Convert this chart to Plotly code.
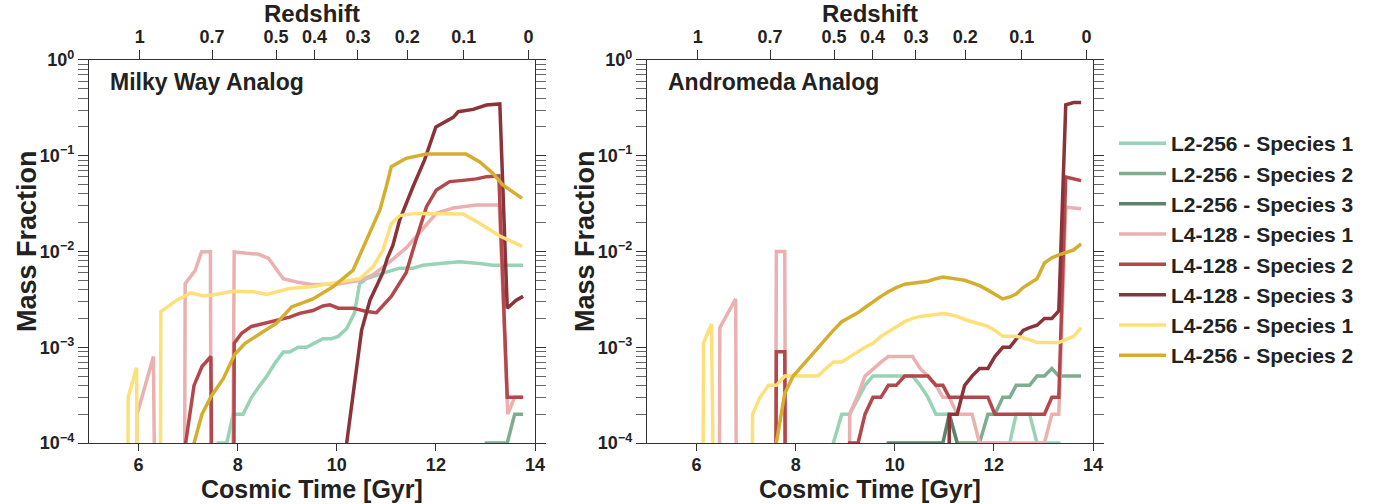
import numpy as np
import plotly.graph_objects as go

# ---- Milky Way analog (left panel): cosmic time [Gyr] / mass fraction per run+species
MW_L2_S1_T = [7.50, 7.61, 7.78, 7.91, 8.11, 8.28, 8.45, 8.58, 8.75, 8.92, 9.05, 9.22, 9.39, 9.72, 9.89,
              10.03, 10.20, 10.36, 10.46, 10.60, 11.00, 11.27, 11.54, 11.74, 12.08, 12.48, 12.88, 13.15, 13.76]
MW_L2_S1_Y = [0, 1e-4, 1e-4, 2.0e-4, 2.0e-4, 3.0e-4, 4.0e-4, 4.9e-4, 6.8e-4, 8.9e-4, 8.9e-4, 1.0e-3, 1.0e-3, 1.23e-3, 1.23e-3,
              1.3e-3, 1.57e-3, 2.3e-3, 4.6e-3, 5.2e-3, 6.1e-3, 6.7e-3, 6.7e-3, 7.2e-3, 7.5e-3, 7.8e-3, 7.5e-3, 7.2e-3, 7.2e-3]

MW_L2_S2_T = [12.90, 13.02, 13.44, 13.59, 13.76]
MW_L2_S2_Y = [0, 1e-4, 1e-4, 2e-4, 2e-4]

MW_L4128_S1_T = [5.80, 5.97, 6.30, 6.45, 6.80, 6.94, 7.14, 7.27, 7.45, 7.60, 7.80, 7.93, 8.18, 8.41, 8.62, 8.92,
                 9.19, 9.52, 10.06, 10.46, 10.73, 11.07, 11.40, 11.74, 12.01, 12.35, 12.82, 13.28, 13.45, 13.59, 13.76]
MW_L4128_S1_Y = [0, 2.0e-4, 8.0e-4, 0, 0, 4.6e-3, 6.3e-3, 9.9e-3, 1.0e-2, 0, 0, 9.9e-3, 9.6e-3, 9.4e-3, 8.5e-3, 5.2e-3,
                 4.8e-3, 4.5e-3, 4.6e-3, 5.0e-3, 5.7e-3, 7.8e-3, 1.09e-2, 1.73e-2, 2.5e-2, 2.85e-2, 3.05e-2, 3.05e-2, 2.0e-4, 3.0e-4, 3.0e-4]

MW_L4128_S2_T = [6.80, 6.95, 7.12, 7.28, 7.46, 7.60, 7.80, 7.93, 8.08, 8.28, 8.58, 8.85, 9.05, 9.25, 9.52, 9.72, 9.86,
                 10.03, 10.33, 10.60, 10.80, 11.10, 11.40, 11.60, 11.81, 12.01, 12.28, 12.55, 12.82, 13.02, 13.27, 13.44, 13.76]
MW_L4128_S2_Y = [0, 1e-4, 4.0e-4, 6.3e-4, 8.0e-4, 0, 0, 1.1e-3, 1.4e-3, 1.65e-3, 1.8e-3, 1.96e-3, 2.06e-3, 2.26e-3, 2.42e-3, 2.7e-3, 2.77e-3,
                 2.56e-3, 2.56e-3, 2.36e-3, 2.3e-3, 3.4e-3, 6.0e-3, 1.33e-2, 2.94e-2, 4.39e-2, 5.37e-2, 5.53e-2, 5.73e-2, 6.05e-2, 6.15e-2, 3.0e-4, 3.0e-4]

MW_L4128_S3_T = [10.10, 10.20, 10.50, 10.67, 10.93, 11.02, 11.13, 11.27, 11.54, 11.77, 12.00, 12.21, 12.35, 12.45, 12.75,
                 13.02, 13.29, 13.44, 13.62, 13.76]
MW_L4128_S3_Y = [0, 1e-4, 1.5e-3, 3.1e-3, 6.0e-3, 8.5e-3, 1.15e-2, 2.14e-2, 4.77e-2, 9.0e-2, 0.20, 0.227, 0.252, 0.288, 0.305,
                 0.339, 0.347, 2.56e-3, 3.1e-3, 3.4e-3]

MW_L4256_S1_T = [5.70, 5.79, 5.96, 6.10, 6.30, 6.45, 6.77, 7.06, 7.28, 7.46, 7.91, 8.32, 8.58, 9.05, 9.52, 9.93,
                 10.46, 10.73, 10.93, 11.10, 11.27, 11.60, 12.55, 12.88, 13.29, 13.74]
MW_L4256_S1_Y = [0, 3.0e-4, 6.1e-4, 0, 0, 2.35e-3, 3.1e-3, 3.7e-3, 3.45e-3, 3.5e-3, 3.85e-3, 3.8e-3, 3.57e-3, 4.1e-3, 4.3e-3, 4.7e-3,
                 5.2e-3, 6.9e-3, 1.03e-2, 1.95e-2, 2.37e-2, 2.5e-2, 2.47e-2, 1.97e-2, 1.45e-2, 1.13e-2]

MW_L4256_S2_T = [7.00, 7.12, 7.28, 7.47, 7.71, 7.94, 8.15, 8.35, 8.51, 8.78, 9.09, 9.52, 9.93, 10.33, 10.63,
                 10.87, 11.00, 11.10, 11.40, 11.81, 12.61, 12.88, 13.15, 13.35, 13.74]
MW_L4256_S2_Y = [0, 1e-4, 2.0e-4, 3.1e-4, 4.7e-4, 8.4e-4, 1.1e-3, 1.3e-3, 1.45e-3, 1.77e-3, 2.64e-3, 3.2e-3, 4.3e-3, 6.4e-3, 1.44e-2,
                 2.72e-2, 4.77e-2, 7.69e-2, 9.4e-2, 0.104, 0.104, 8.66e-2, 6.55e-2, 4.96e-2, 3.59e-2]

# ---- Andromeda analog (right panel): all runs share one snapshot grid
M31_T = [5.98, 6.14, 6.30, 6.47, 6.63, 6.79, 6.96, 7.13, 7.28, 7.45,
         7.61, 7.78, 7.95, 8.12, 8.28, 8.45, 8.61, 8.76, 8.93, 9.09,
         9.26, 9.40, 9.56, 9.72, 9.87, 10.03, 10.20, 10.36, 10.51, 10.67,
         10.83, 10.97, 11.10, 11.26, 11.41, 11.56, 11.71, 11.88, 12.02, 12.18,
         12.32, 12.45, 12.59, 12.72, 12.87, 13.02, 13.17, 13.31, 13.45, 13.61,
         13.76]
M31_L2_S1 = [0, 0, 0, 0, 0, 0, 0, 0, 0, 0,
             0, 0, 0, 0, 0, 0, 0, 1e-4, 2e-4, 2e-4,
             3e-4, 4e-4, 5e-4, 5e-4, 5e-4, 5e-4, 5e-4, 5e-4, 4e-4, 3e-4,
             2e-4, 2e-4, 2e-4, 1e-4, 1e-4, 1e-4, 1e-4, 1e-4, 1e-4, 1e-4,
             1e-4, 2e-4, 2e-4, 2e-4, 1e-4, 1e-4, 1e-4, 1e-4, 0, 0,
             0]
M31_L2_S2 = [0, 0, 0, 0, 0, 0, 0, 0, 0, 0,
             0, 0, 0, 0, 0, 0, 0, 0, 0, 0,
             0, 0, 0, 0, 0, 0, 0, 0, 0, 0,
             0, 0, 0, 1e-4, 1e-4, 1e-4, 1e-4, 2e-4, 2e-4, 3e-4,
             3e-4, 4e-4, 4e-4, 4e-4, 5e-4, 5e-4, 6e-4, 5e-4, 5e-4, 5e-4,
             5e-4]
M31_L2_S3 = [0, 0, 0, 0, 0, 0, 0, 0, 0, 0,
             0, 0, 0, 0, 0, 0, 0, 0, 0, 0,
             0, 0, 0, 0, 1e-4, 1e-4, 1e-4, 1e-4, 1e-4, 1e-4,
             1e-4, 1e-4, 2e-4, 1e-4, 0, 0, 0, 0, 0, 0,
             0, 0, 0, 0, 0, 0, 0, 0, 0, 0,
             0]
M31_L4128_S1 = [0, 0, 0, 1.6e-3, 2.3e-3, 3.2e-3, 0, 0, 0, 0,
                1e-2, 1e-2, 0, 0, 0, 0, 0, 0, 0, 2e-4,
                3.2e-4, 5e-4, 6e-4, 7e-4, 8e-4, 8e-4, 8e-4, 8e-4, 6e-4, 5e-4,
                4e-4, 3e-4, 3e-4, 2e-4, 2e-4, 2e-4, 1e-4, 1e-4, 1e-4, 1e-4,
                1e-4, 1e-4, 1e-4, 1e-4, 1e-4, 1e-4, 2e-4, 2e-4, 2.9e-2, 2.85e-2,
                2.8e-2]
M31_L4128_S2 = [0, 0, 0, 0, 0, 0, 0, 0, 0, 0,
                9e-4, 9e-4, 0, 0, 0, 0, 0, 0, 0, 1e-4,
                1e-4, 2e-4, 3e-4, 3e-4, 4e-4, 4e-4, 5e-4, 5e-4, 5e-4, 5e-4,
                4e-4, 4e-4, 3e-4, 3e-4, 3e-4, 3e-4, 3e-4, 3e-4, 2e-4, 2e-4,
                2e-4, 2e-4, 2e-4, 2e-4, 2e-4, 2e-4, 3e-4, 3e-4, 6.0e-2, 5.7e-2,
                5.5e-2]
M31_L4128_S3 = [0, 0, 0, 0, 0, 0, 0, 0, 0, 0,
                0, 0, 0, 0, 0, 0, 0, 0, 0, 0,
                0, 0, 0, 0, 0, 0, 0, 0, 0, 0,
                0, 0, 2e-4, 2e-4, 4e-4, 5e-4, 6e-4, 6e-4, 8e-4, 1.0e-3,
                1.0e-3, 1.2e-3, 1.5e-3, 1.6e-3, 1.7e-3, 2.0e-3, 2.0e-3, 2.4e-3, 0.34, 0.36,
                0.36]
M31_L4256_S1 = [0, 1.1e-3, 1.75e-3, 0, 0, 0, 0, 2.0e-4, 3.0e-4, 4.0e-4,
                4.0e-4, 5.0e-4, 5.0e-4, 5.0e-4, 5.0e-4, 5.0e-4, 6.0e-4, 7.0e-4, 7.0e-4, 8.0e-4,
                9.0e-4, 1.0e-3, 1.1e-3, 1.3e-3, 1.45e-3, 1.6e-3, 1.85e-3, 2.0e-3, 2.1e-3, 2.15e-3,
                2.2e-3, 2.25e-3, 2.2e-3, 2.1e-3, 1.95e-3, 1.85e-3, 1.75e-3, 1.65e-3, 1.5e-3, 1.3e-3,
                1.3e-3, 1.3e-3, 1.25e-3, 1.2e-3, 1.12e-3, 1.12e-3, 1.12e-3, 1.12e-3, 1.2e-3, 1.3e-3,
                1.6e-3]
M31_L4256_S2 = [0, 0, 0, 0, 0, 0, 0, 0, 0, 0,
                1e-4, 3.3e-4, 5.0e-4, 6.3e-4, 8.0e-4, 1.0e-3, 1.25e-3, 1.5e-3, 1.85e-3, 2.05e-3,
                2.3e-3, 2.6e-3, 3.0e-3, 3.4e-3, 3.8e-3, 4.2e-3, 4.55e-3, 4.7e-3, 4.75e-3, 4.9e-3,
                5.2e-3, 5.4e-3, 5.3e-3, 5.1e-3, 5.0e-3, 4.7e-3, 4.4e-3, 3.95e-3, 3.6e-3, 3.2e-3,
                3.35e-3, 3.6e-3, 4.2e-3, 4.6e-3, 5.2e-3, 7.6e-3, 8.6e-3, 9.2e-3, 9.7e-3, 1.04e-2,
                1.2e-2]

NAMES = ['L2-256 - Species 1', 'L2-256 - Species 2', 'L2-256 - Species 3',
         'L4-128 - Species 1', 'L4-128 - Species 2', 'L4-128 - Species 3',
         'L4-256 - Species 1', 'L4-256 - Species 2']
COLORS = ['#98d3b5', '#7fad8f', '#5d8469',
          '#ebb0b0', '#b3474b', '#8a343a',
          '#fee07b', '#d5ad2f']

REDSHIFTS = [1, 0.7, 0.5, 0.4, 0.3, 0.2, 0.1, 0]
REDSHIFT_LABELS = ['1', '0.7', '0.5', '0.4', '0.3', '0.2', '0.1', '0']

mw = {
    0: (MW_L2_S1_T, MW_L2_S1_Y),
    1: (MW_L2_S2_T, MW_L2_S2_Y),
    3: (MW_L4128_S1_T, MW_L4128_S1_Y),
    4: (MW_L4128_S2_T, MW_L4128_S2_Y),
    5: (MW_L4128_S3_T, MW_L4128_S3_Y),
    6: (MW_L4256_S1_T, MW_L4256_S1_Y),
    7: (MW_L4256_S2_T, MW_L4256_S2_Y),
}
m31 = [M31_L2_S1, M31_L2_S2, M31_L2_S3, M31_L4128_S1, M31_L4128_S2, M31_L4128_S3,
       M31_L4256_S1, M31_L4256_S2]


def cosmic_time(z, h=0.7, om=0.27):
    # flat LCDM age of the universe at redshift z, in Gyr
    ol = 1.0 - om
    hubble_time = 977.8 / (100.0 * h)
    x = np.sqrt(ol / om) * (1.0 + np.asarray(z, dtype=float)) ** -1.5
    return 2.0 / 3.0 * hubble_time / np.sqrt(ol) * np.arcsinh(x)


def clip_zero(vals):
    # empty snapshots -> tiny value so the lines drop straight down off the log axis
    return [v if v > 0 else 1e-30 for v in vals]


FONT = 'Liberation Sans'
INK = '#222222'
W, H = 1395, 504
LW = 3.5

fig = go.Figure()

for i in range(8):
    if i in mw:
        t, y = mw[i]
        fig.add_trace(go.Scatter(x=t, y=clip_zero(y), mode='lines', name=NAMES[i],
                                 line=dict(color=COLORS[i], width=LW), showlegend=False,
                                 xaxis='x', yaxis='y', legendgroup=NAMES[i]))
for i in range(8):
    fig.add_trace(go.Scatter(x=M31_T, y=clip_zero(m31[i]), mode='lines', name=NAMES[i],
                             line=dict(color=COLORS[i], width=LW), showlegend=True,
                             xaxis='x2', yaxis='y2', legendgroup=NAMES[i]))

# dummy traces so the redshift axes get drawn
fig.add_trace(go.Scatter(x=[5], y=[1e-30], xaxis='x3', yaxis='y', showlegend=False, hoverinfo='skip'))
fig.add_trace(go.Scatter(x=[5], y=[1e-30], xaxis='x4', yaxis='y2', showlegend=False, hoverinfo='skip'))

z_times = cosmic_time(REDSHIFTS).tolist()
minor_vals = [k * 10.0 ** e for e in range(-4, 0) for k in range(2, 10)]

tick_font = dict(family=FONT, size=18, color=INK, weight='bold')


def xaxis_bottom(domain, anchor):
    return dict(domain=domain, anchor=anchor, range=[5, 14], tickvals=[6, 8, 10, 12, 14],
                ticks='outside', ticklen=7, tickwidth=1.3, tickcolor='#333',
                ticklabelstandoff=-2,
                showline=True, linecolor='#333', linewidth=1.3, mirror=True,
                showgrid=False, zeroline=False, tickfont=tick_font, automargin=False)


def xaxis_top(overlay, anchor):
    return dict(overlaying=overlay, anchor=anchor, side='top', range=[5, 14],
                tickvals=z_times, ticktext=REDSHIFT_LABELS, ticks='outside', ticklen=9,
                tickwidth=1.3, tickcolor='#333', showline=False, showgrid=False,
                zeroline=False, tickfont=tick_font, automargin=False)


def yaxis(anchor):
    return dict(domain=[0.121, 0.881], anchor=anchor, type='log', range=[-4, 0],
                tickvals=[1e-4, 1e-3, 1e-2, 1e-1, 1],
                ticktext=['10<sup>−4</sup>', '10<sup>−3</sup>', '10<sup>−2</sup>',
                          '10<sup>−1</sup>', '10<sup>0</sup>'],
                ticks='outside', ticklen=10, tickwidth=1.3, tickcolor='#333',
                minor=dict(tickvals=minor_vals, ticks='outside', ticklen=6,
                           tickwidth=1.3, tickcolor='#666', showgrid=False),
                showline=True, linecolor='#333', linewidth=1.3, mirror='allticks',
                showgrid=False, zeroline=False, tickfont=tick_font, automargin=False)


def ann(text, px, py, size=24, angle=0, xanchor='center'):
    return dict(text=text, x=px / W, y=1 - py / H, xref='paper', yref='paper',
                showarrow=False, textangle=angle, xanchor=xanchor, yanchor='middle',
                font=dict(family=FONT, size=size, color=INK, weight='bold'))


fig.update_layout(
    width=W, height=H,
    margin=dict(l=0, r=0, t=0, b=0, autoexpand=False),
    paper_bgcolor='white', plot_bgcolor='white',
    xaxis=xaxis_bottom([89 / W, 535 / W], 'y'),
    yaxis=yaxis('x'),
    xaxis2=xaxis_bottom([647 / W, 1093 / W], 'y2'),
    yaxis2=yaxis('x2'),
    xaxis3=xaxis_top('x', 'y'),
    xaxis4=xaxis_top('x2', 'y2'),
    showlegend=True,
    legend=dict(x=1114 / W, y=1 - 123 / H, xanchor='left', yanchor='top',
                font=dict(family=FONT, size=21, color=INK, weight='bold'),
                itemwidth=47, tracegroupgap=0, bgcolor='rgba(0,0,0,0)'),
    annotations=[
        ann('Redshift', 312, 13),
        ann('Redshift', 870, 13),
        ann('Cosmic Time [Gyr]', 312, 489, size=25),
        ann('Cosmic Time [Gyr]', 870, 489, size=25),
        ann('Mass Fraction', 27, 241, size=27, angle=-90),
        ann('Mass Fraction', 585, 241, size=27, angle=-90),
        ann('Milky Way Analog', 108, 82, size=23, xanchor='left'),
        ann('Andromeda Analog', 666, 82, size=23, xanchor='left'),
    ],
)

# the page's default body margin would shift the fixed-size figure
fig.write_html('out.html', config={'displayModeBar': False},
               post_script="document.body.style.margin='0px';")
